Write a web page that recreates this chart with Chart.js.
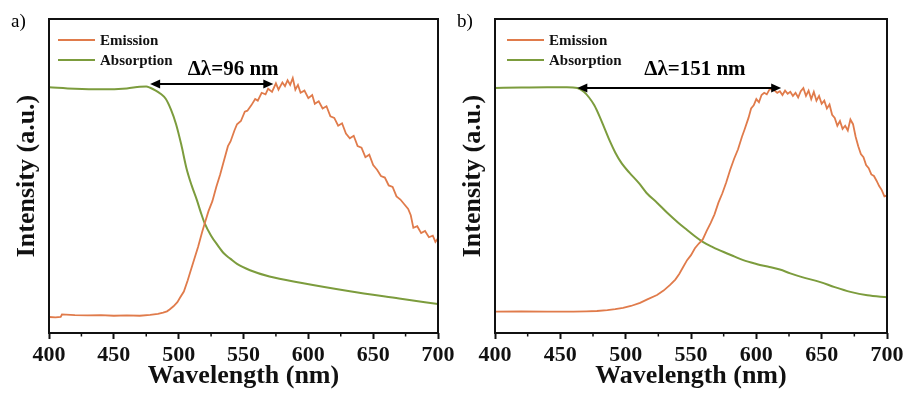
<!DOCTYPE html>
<html>
<head>
<meta charset="utf-8">
<script src="https://cdn.jsdelivr.net/npm/chart.js@4.4.1/dist/chart.umd.min.js"></script>
<style>
  body { margin: 0; background: #fff; }
  #wrap { position: relative; width: 909px; height: 397px; }
  canvas { position: absolute; top: 0; }
  #chartA { left: 0; }
  #chartB { left: 440px; }
</style>
</head>
<body>
<div id="wrap">
  <canvas id="chartA" width="460" height="397"></canvas>
  <canvas id="chartB" width="469" height="397"></canvas>
</div>
<script>
// ---------------- data ----------------
const xTicks = [400, 450, 500, 550, 600, 650, 700];
const xMinorTicks = [425, 475, 525, 575, 625, 675];

// panel a) emission
const emWaveA = [400,405,409,410,420,430,440,450,460,470,478,484,488,491,493,496,499,501,504,507,509,512,515,518,520,523,526,529,532,535,538,540,543,545,548,551,553,556,559,561,564,567,569,572,575,577,580,582,584,586,588,590,592,594,597,600,603,605,608,611,614,617,620,623,626,629,632,635,638,641,644,647,650,653,656,659,662,665,668,671,674,677,679,681,684,687,690,693,696,698,700];
const emIntA = [5.1,5.0,5.1,5.9,5.7,5.6,5.7,5.5,5.6,5.5,5.8,6.1,6.5,6.9,7.5,8.5,9.8,11.2,13.2,16.8,19.5,23.5,27.5,32.0,34.8,38.8,42.0,46.5,50.5,55.0,59.5,61.0,64.5,66.5,67.5,70.5,70.8,72.5,74.5,74.0,76.5,76.0,77.8,76.8,79.5,77.5,79.8,78.6,80.5,79.0,81.2,77.5,79.0,76.5,77.2,74.8,75.8,73.0,73.8,71.5,72.2,69.0,68.5,66.0,66.8,63.5,62.0,62.8,59.5,59.0,56.0,56.8,53.5,52.0,50.0,49.5,47.0,46.5,43.5,42.5,41.0,39.5,37.5,33.5,34.0,31.8,32.5,30.5,31.0,29.0,30.2];

// panel a) absorption
const absWaveA = [400,420,440,460,470,475,478,482,486,490,494,498,502,506,510,514,517,520,525,530,535,540,545,555,570,594,632,670,700];
const absIntA = [78.3,77.8,77.6,77.9,78.4,78.5,78.1,77.3,76.2,74.6,71.2,66.5,60.0,52.5,47.0,42.4,38.5,35.0,31.0,28.0,25.3,23.6,22.0,20.0,18.0,16.0,13.3,11.0,9.2];

// panel b) emission
const emWaveB = [400,420,440,460,470,478,486,492,498,504,511,517,524,529,534,538,541,544,547,550,553,556,559,562,565,568,571,574,577,580,583,586,589,591,594,596,598,600,602,604,606,608,610,612,614,616,618,620,622,624,626,628,630,632,634,636,638,640,642,644,646,648,650,652,654,656,658,660,662,664,666,668,670,672,674,676,678,680,682,684,686,688,690,692,694,696,698,700];
const emIntB = [6.8,6.9,6.8,6.8,6.9,7.0,7.3,7.6,8.0,8.6,9.6,10.8,12.1,13.5,15.3,17.0,18.8,21.0,23.2,24.8,27.0,28.5,29.8,32.5,35.0,37.8,41.5,44.5,48.0,52.0,55.5,58.5,62.5,64.8,68.5,71.5,72.5,74.5,73.5,75.8,76.5,76.0,77.5,77.8,77.2,76.5,77.0,75.8,77.2,76.2,76.8,75.5,76.5,75.0,77.0,78.0,75.5,77.2,74.5,76.8,74.0,75.5,73.0,74.0,71.5,72.8,69.5,68.5,66.0,67.5,65.0,66.0,64.5,68.0,66.5,62.5,59.5,57.0,56.0,53.5,52.5,50.5,50.0,48.5,46.8,45.5,43.5,43.8];

// panel b) absorption
const absWaveB = [400,420,440,455,463,468,472,476,480,484,488,492,497,503,510,516,524,532,540,547,553,559,567,575,583,590,600,610,618,626,635,649,660,672,685,700];
const absIntB = [78.0,78.2,78.3,78.3,78.0,76.8,75.0,72.5,69.0,65.0,61.0,57.5,54.0,51.0,47.8,44.6,41.5,38.2,35.2,32.8,30.8,29.0,27.3,25.8,24.4,23.2,22.0,21.0,20.2,19.0,17.8,16.2,14.6,13.1,12.0,11.4];

// stokes shift arrows (wavelength from -> to, intensity level)
const shiftA = { from: 478, to: 573, level: 79.3, label: 'Δλ=96 nm' };
const shiftB = { from: 463, to: 619, level: 78.0, label: 'Δλ=151 nm' };

// ---------------- style ----------------
const SERIF = "'Liberation Serif', 'Times New Roman', Times, serif";
const EM_COLOR = '#e07b4b';
const ABS_COLOR = '#7c9c3d';

const toPoints = (xs, ys) => xs.map((x, i) => ({ x, y: ys[i] }));

// frame, minor ticks, legend, arrow, panel tag
const decoPlugin = {
  id: 'deco',
  afterDraw(chart, args, o) {
    const { ctx, chartArea: a, scales: { x, y } } = chart;
    ctx.save();

    ctx.strokeStyle = '#111';
    ctx.lineWidth = 2;
    ctx.strokeRect(a.left, a.top, a.right - a.left, a.bottom - a.top);

    ctx.lineWidth = 1.5;
    xMinorTicks.forEach(v => {
      const px = x.getPixelForValue(v);
      ctx.beginPath();
      ctx.moveTo(px, a.bottom);
      ctx.lineTo(px, a.bottom + 3.5);
      ctx.stroke();
    });

    // legend
    const items = [['Emission', EM_COLOR], ['Absorption', ABS_COLOR]];
    ctx.font = `bold 15px ${SERIF}`;
    ctx.textBaseline = 'middle';
    ctx.textAlign = 'left';
    items.forEach(([txt, col], i) => {
      const ly = a.top + 21 + i * 20;
      ctx.strokeStyle = col;
      ctx.lineWidth = 2;
      ctx.beginPath();
      ctx.moveTo(a.left + o.legendX, ly);
      ctx.lineTo(a.left + o.legendX + 37, ly);
      ctx.stroke();
      ctx.fillStyle = '#111';
      ctx.fillText(txt, a.left + o.legendX + 42, ly + 1);
    });

    // double arrow
    const s = o.shift;
    const x1 = x.getPixelForValue(s.from);
    const x2 = x.getPixelForValue(s.to);
    const ay = y.getPixelForValue(s.level);
    ctx.strokeStyle = '#000';
    ctx.fillStyle = '#000';
    ctx.lineWidth = 2;
    ctx.beginPath();
    ctx.moveTo(x1 + 6, ay);
    ctx.lineTo(x2 - 6, ay);
    ctx.stroke();
    [[x1, 1], [x2, -1]].forEach(([px, d]) => {
      ctx.beginPath();
      ctx.moveTo(px, ay);
      ctx.lineTo(px + d * 10, ay - 4.5);
      ctx.lineTo(px + d * 10, ay + 4.5);
      ctx.closePath();
      ctx.fill();
    });

    ctx.font = `bold 21px ${SERIF}`;
    ctx.textAlign = 'center';
    ctx.textBaseline = 'alphabetic';
    ctx.fillText(s.label, x.getPixelForValue(o.labelAt), 75);

    // panel tag
    ctx.font = `19px ${SERIF}`;
    ctx.textAlign = 'left';
    ctx.fillText(o.tag, o.tagX, 27);

    ctx.restore();
  }
};

function makePanel(id, em, abs, cfg) {
  return new Chart(document.getElementById(id), {
    type: 'line',
    data: {
      datasets: [
        {
          label: 'Emission',
          data: em,
          borderColor: EM_COLOR,
          borderWidth: 1.8,
          pointRadius: 0,
          tension: 0,
        },
        {
          label: 'Absorption',
          data: abs,
          borderColor: ABS_COLOR,
          borderWidth: 2,
          pointRadius: 0,
          cubicInterpolationMode: 'monotone',
        }
      ]
    },
    options: {
      responsive: false,
      animation: false,
      devicePixelRatio: 1,
      layout: { padding: { left: 0, top: 19, right: cfg.padRight, bottom: 0 } },
      plugins: {
        legend: { display: false },
        tooltip: { enabled: false },
        deco: cfg.deco,
      },
      scales: {
        x: {
          type: 'linear',
          min: 400,
          max: 700,
          afterBuildTicks: s => { s.ticks = xTicks.map(v => ({ value: v })); },
          afterFit: s => { s.height = 64; s.paddingLeft = 0; s.paddingRight = 0; },
          border: { display: false },
          grid: { display: true, drawOnChartArea: false, drawTicks: true, tickLength: 6, tickWidth: 2, tickColor: '#111' },
          ticks: {
            color: '#111',
            padding: 3,
            maxRotation: 0,
            autoSkip: false,
            font: { family: SERIF, size: 22, weight: 'bold' }
          },
          title: {
            display: true,
            text: 'Wavelength (nm)',
            color: '#111',
            font: { family: SERIF, size: 26, weight: 'bold' },
            padding: { top: 0, bottom: 5 }
          }
        },
        y: {
          min: 0,
          max: 100,
          afterFit: s => { s.width = cfg.yWidth; s.paddingTop = 0; s.paddingBottom = 0; },
          border: { display: false },
          grid: { display: false },
          ticks: { display: false },
          title: {
            display: true,
            text: 'Intensity (a.u.)',
            color: '#111',
            font: { family: SERIF, size: 26, weight: 'bold' },
            padding: { top: cfg.titlePad, bottom: 0 }
          }
        }
      }
    },
    plugins: [decoPlugin]
  });
}

makePanel('chartA', toPoints(emWaveA, emIntA), toPoints(absWaveA, absIntA), {
  padRight: 22, yWidth: 49, titlePad: 12,
  deco: { tag: 'a)', tagX: 11, legendX: 9, shift: shiftA, labelAt: 542 }
});

makePanel('chartB', toPoints(emWaveB, emIntB), toPoints(absWaveB, absIntB), {
  padRight: 22, yWidth: 55, titlePad: 18,
  deco: { tag: 'b)', tagX: 17, legendX: 12, shift: shiftB, labelAt: 553 }
});
</script>
</body>
</html>
